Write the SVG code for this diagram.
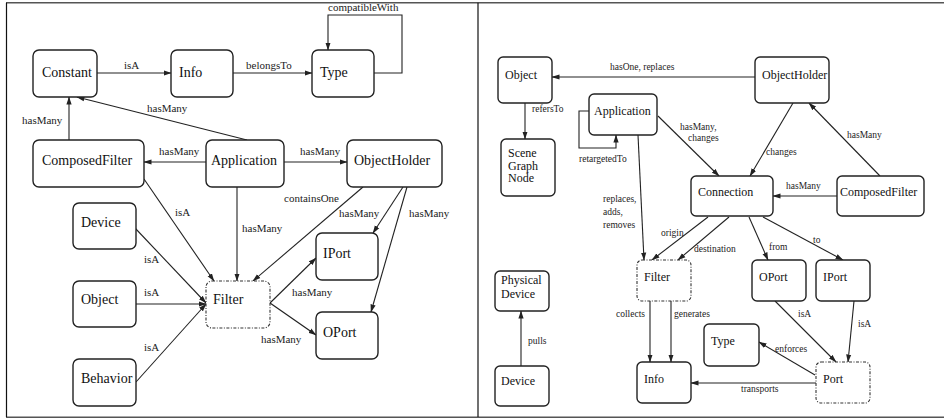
<svg xmlns="http://www.w3.org/2000/svg" width="944" height="419" viewBox="0 0 944 419">
  <defs>
    <style>
      .frame { stroke: #555; stroke-width: 1.6; fill: none; }
      .div { stroke: #111; stroke-width: 1.2; fill: none; }
      .box { fill: #fff; stroke: #222; stroke-width: 1.4; }
      .dash { fill: #fff; stroke: #333; stroke-width: 1.1; stroke-dasharray: 3 1.5 1 1.5; }
      text { font-family: 'Liberation Serif', 'DejaVu Serif', serif; }
      .nl { font-size: 14px; fill: #111; }
      .nr { font-size: 12px; fill: #111; }
      .ll { font-size: 11px; fill: #222; }
      .lr { font-size: 9.5px; fill: #222; }
      .e { fill: none; stroke: #222; stroke-width: 1.1; marker-end: url(#arr); }
    </style>
    <marker id="arr" markerWidth="8" markerHeight="6" refX="7.5" refY="3" orient="auto" markerUnits="userSpaceOnUse">
      <path d="M0,0.4 L8,3 L0,5.6 Z" fill="#222"/>
    </marker>
  </defs>

  <!-- frame -->
  <line class="frame" x1="6" y1="2.7" x2="944" y2="2.7"/>
  <line class="frame" x1="6" y1="417.3" x2="944" y2="417.3"/>
  <line class="div" x1="6.5" y1="2.7" x2="6.5" y2="417"/>
  <line class="div" x1="478" y1="2.7" x2="478" y2="417"/>

  <g font-family="Liberation Serif, serif">
  <!-- connectors, left model -->
  <g id="edges-left">
    <path class="e" d="M97,73 L171,73"/>
    <text class="ll" x="124" y="69">isA</text>
    <path class="e" d="M233,73 L312,73"/>
    <text class="ll" x="246" y="69">belongsTo</text>
    <path class="e" d="M374,73 L402,73 L402,15 L328,15 L328,50"/>
    <text class="ll" x="328" y="11">compatibleWith</text>
    <path class="e" d="M247,140 L77,97"/>
    <text class="ll" x="147" y="112">hasMany</text>
    <path class="e" d="M69,140 L69,97"/>
    <text class="ll" x="22" y="124">hasMany</text>
    <path class="e" d="M206,162 L144,162"/>
    <text class="ll" x="159" y="155">hasMany</text>
    <path class="e" d="M284,162 L347,162"/>
    <text class="ll" x="300" y="155">hasMany</text>
    <path class="e" d="M144,179 L214,281"/>
    <text class="ll" x="175" y="216">isA</text>
    <path class="e" d="M237,187 L237,281"/>
    <text class="ll" x="242" y="232">hasMany</text>
    <path class="e" d="M363,187 L253,281"/>
    <text class="ll" x="284" y="202">containsOne</text>
    <path class="e" d="M403,187 L373,233"/>
    <text class="ll" x="339" y="217">hasMany</text>
    <path class="e" d="M407,187 L371,312"/>
    <text class="ll" x="409" y="217">hasMany</text>
    <path class="e" d="M135,228 L206,303"/>
    <text class="ll" x="144" y="263">isA</text>
    <path class="e" d="M136,304 L206,304"/>
    <text class="ll" x="144" y="296">isA</text>
    <path class="e" d="M136,382 L206,304"/>
    <text class="ll" x="144" y="351">isA</text>
    <path class="e" d="M270,303 L316,258"/>
    <text class="ll" x="292" y="296">hasMany</text>
    <path class="e" d="M270,303 L316,335"/>
    <text class="ll" x="261" y="343">hasMany</text>
  </g>

  <!-- nodes, left model -->
  <g id="l-constant"><rect class="box" x="33" y="50" width="64" height="47" rx="6"/><text class="nl" x="42" y="77">Constant</text></g>
  <g id="l-info"><rect class="box" x="171" y="50" width="62" height="47" rx="6"/><text class="nl" x="179" y="77">Info</text></g>
  <g id="l-type"><rect class="box" x="312" y="50" width="62" height="47" rx="6"/><text class="nl" x="320" y="77">Type</text></g>
  <g id="l-composedfilter"><rect class="box" x="33" y="140" width="111" height="47" rx="6"/><text class="nl" x="42" y="165">ComposedFilter</text></g>
  <g id="l-application"><rect class="box" x="206" y="140" width="78" height="47" rx="6"/><text class="nl" x="211" y="165">Application</text></g>
  <g id="l-objectholder"><rect class="box" x="347" y="140" width="95" height="47" rx="6"/><text class="nl" x="354" y="165">ObjectHolder</text></g>
  <g id="l-device"><rect class="box" x="73" y="203" width="63" height="46" rx="6"/><text class="nl" x="81" y="227">Device</text></g>
  <g id="l-iport"><rect class="box" x="316" y="233" width="62" height="47" rx="6"/><text class="nl" x="323" y="258">IPort</text></g>
  <g id="l-object"><rect class="box" x="73" y="281" width="63" height="46" rx="6"/><text class="nl" x="81" y="304">Object</text></g>
  <g id="l-filter"><rect class="dash" x="206" y="281" width="64" height="47" rx="6"/><text class="nl" x="213" y="304">Filter</text></g>
  <g id="l-oport"><rect class="box" x="316" y="312" width="62" height="47" rx="6"/><text class="nl" x="323" y="337">OPort</text></g>
  <g id="l-behavior"><rect class="box" x="73" y="359" width="63" height="47" rx="6"/><text class="nl" x="81" y="383">Behavior</text></g>

  <!-- connectors, right model -->
  <g id="edges-right">
    <path class="e" d="M755,77 L552,77"/>
    <text class="lr" x="610" y="70">hasOne, replaces</text>
    <path class="e" d="M525,103 L525,139"/>
    <text class="lr" x="532" y="112">refersTo</text>
    <path class="e" d="M589,111 L579,111 L579,148 L616,148 L616,135"/>
    <text class="lr" x="579" y="162">retargetedTo</text>
    <path class="e" d="M658,116 L719,176"/>
    <text class="lr" x="680" y="130">hasMany,</text>
    <text class="lr" x="688" y="141">changes</text>
    <path class="e" d="M793,103 L750,176"/>
    <text class="lr" x="766" y="155">changes</text>
    <path class="e" d="M880,176 L809,103"/>
    <text class="lr" x="847" y="138">hasMany</text>
    <path class="e" d="M837,196 L773,196"/>
    <text class="lr" x="786" y="189">hasMany</text>
    <path class="e" d="M638,135 L644,260"/>
    <text class="lr" x="603" y="202">replaces,</text>
    <text class="lr" x="603" y="215">adds,</text>
    <text class="lr" x="603" y="228">removes</text>
    <path class="e" d="M708,217 L652,260"/>
    <text class="lr" x="661" y="236">origin</text>
    <path class="e" d="M729,217 L678,260"/>
    <text class="lr" x="694" y="252">destination</text>
    <path class="e" d="M749,217 L768,260"/>
    <text class="lr" x="769" y="250">from</text>
    <path class="e" d="M763,217 L843,260"/>
    <text class="lr" x="813" y="243">to</text>
    <path class="e" d="M521,366 L521,311"/>
    <text class="lr" x="528" y="344">pulls</text>
    <path class="e" d="M650,301 L650,362"/>
    <text class="lr" x="616" y="317">collects</text>
    <path class="e" d="M671,301 L671,362"/>
    <text class="lr" x="674" y="317">generates</text>
    <path class="e" d="M775,301 L836,362"/>
    <text class="lr" x="798" y="317">isA</text>
    <path class="e" d="M854,301 L848,362"/>
    <text class="lr" x="858" y="327">isA</text>
    <path class="e" d="M815,375 L759,342"/>
    <text class="lr" x="775" y="352">enforces</text>
    <path class="e" d="M816,383 L691,383"/>
    <text class="lr" x="741" y="392">transports</text>
  </g>

  <!-- nodes, right model -->
  <g id="r-object"><rect class="box" x="498" y="57" width="54" height="46" rx="5"/><text class="nr" x="505" y="79">Object</text></g>
  <g id="r-objectholder"><rect class="box" x="755" y="57" width="74" height="46" rx="5"/><text class="nr" x="762" y="79">ObjectHolder</text></g>
  <g id="r-application"><rect class="box" x="589" y="94" width="68" height="41" rx="5"/><text class="nr" x="594" y="115">Application</text></g>
  <g id="r-scenegraphnode"><rect class="box" x="501" y="139" width="54" height="57" rx="5"/>
    <text class="nr" x="508" y="157">Scene</text><text class="nr" x="508" y="169.5">Graph</text><text class="nr" x="508" y="182">Node</text></g>
  <g id="r-connection"><rect class="box" x="691" y="176" width="82" height="40" rx="5"/><text class="nr" x="698" y="196">Connection</text></g>
  <g id="r-composedfilter"><rect class="box" x="837" y="176" width="87" height="40" rx="5"/><text class="nr" x="840" y="196">ComposedFilter</text></g>
  <g id="r-filter"><rect class="dash" x="637" y="260" width="54" height="41" rx="5"/><text class="nr" x="644" y="281">Filter</text></g>
  <g id="r-oport"><rect class="box" x="752" y="260" width="54" height="41" rx="5"/><text class="nr" x="759" y="281">OPort</text></g>
  <g id="r-iport"><rect class="box" x="816" y="260" width="54" height="41" rx="5"/><text class="nr" x="823" y="281">IPort</text></g>
  <g id="r-physicaldevice"><rect class="box" x="495" y="271" width="54" height="40" rx="5"/>
    <text class="nr" x="501" y="284">Physical</text><text class="nr" x="501" y="298">Device</text></g>
  <g id="r-type"><rect class="box" x="704" y="324" width="55" height="42" rx="5"/><text class="nr" x="711" y="345">Type</text></g>
  <g id="r-info"><rect class="box" x="637" y="362" width="54" height="41" rx="5"/><text class="nr" x="644" y="383">Info</text></g>
  <g id="r-port"><rect class="dash" x="816" y="362" width="54" height="41" rx="5"/><text class="nr" x="823" y="383">Port</text></g>
  <g id="r-device"><rect class="box" x="495" y="366" width="54" height="40" rx="5"/><text class="nr" x="501" y="385">Device</text></g>
  </g>
</svg>
